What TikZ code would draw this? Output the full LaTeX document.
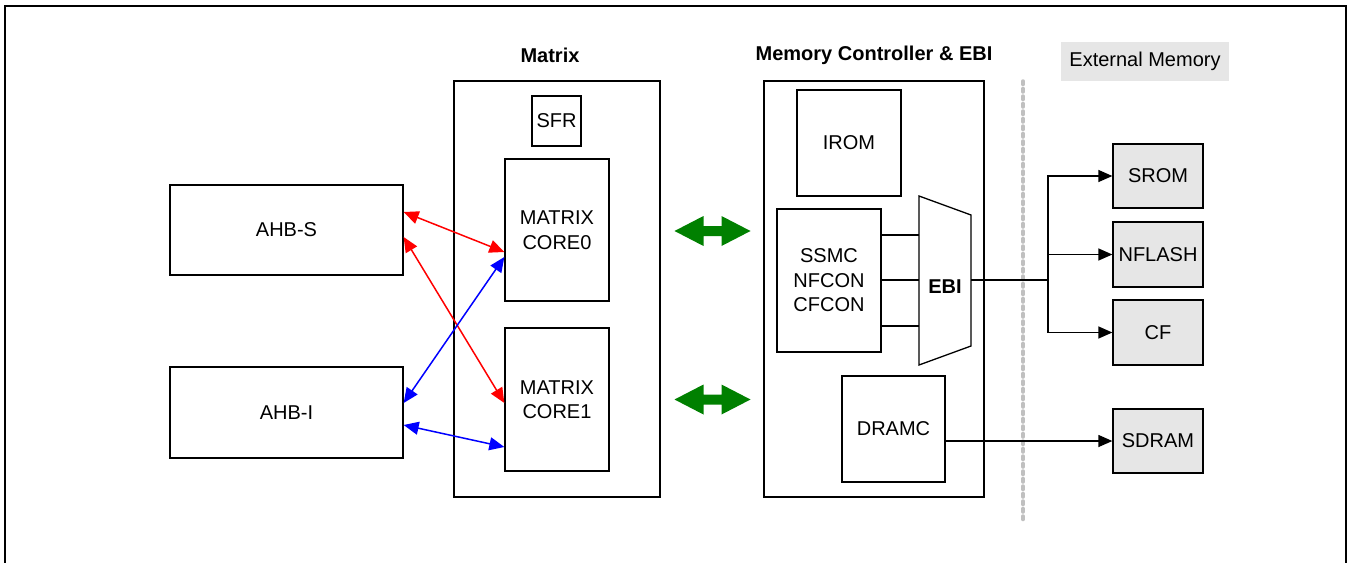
\documentclass[tikz,border=0pt]{standalone}
\usepackage{fontspec}
\setmainfont{Liberation Sans}
\usetikzlibrary{arrows.meta,calc}
\definecolor{dgreen}{RGB}{0,128,0}
\definecolor{lgray}{RGB}{230,230,230}
\definecolor{dgray}{RGB}{192,192,192}
\tikzset{
  box/.style={draw, line width=1.3pt, inner sep=0pt, align=center, font=\fontsize{20}{24.5}\selectfont},
  extbox/.style={box, fill=lgray},
  title/.style={font=\fontsize{20}{24}\selectfont\bfseries, inner sep=0pt},
  tip/.style={-{Triangle[length=14pt,width=12pt]}, line width=1.3pt},
  dtip/.style={{Triangle[length=15pt,width=13pt]}-{Triangle[length=15pt,width=13pt]}, line width=1.5pt},
  garrow/.pic={\fill[dgreen] (-38,0) -- (-9,-15) -- (-9,-5) -- (9,-5) -- (9,-15) -- (38,0) -- (9,15) -- (9,5) -- (-9,5) -- (-9,15) -- cycle;}
}
\begin{document}
\begin{tikzpicture}[x=1pt,y=-1pt]
\useasboundingbox (0,0) rectangle (1354,562);
\fill[white] (0,0) rectangle (1354,562);
\draw[line width=2pt] (5,600) -- (5,6) -- (1346,6) -- (1346,600);

% left
\node[box, minimum width=233pt, minimum height=90pt] (ahbs) at (286.5,230) {AHB-S};
\node[box, minimum width=233pt, minimum height=91pt] (ahbi) at (286.5,412.5) {AHB-I};

% matrix
\node[box, minimum width=206pt, minimum height=416pt] (matrix) at (557,289) {};
\node[title] (matrixlbl) at (550,55) {Matrix};
\node[box, minimum width=49pt, minimum height=50pt] (sfr) at (556.5,121) {SFR};
\node[box, minimum width=104pt, minimum height=142pt] (core0) at (557,230) {MATRIX\\CORE0};
\node[box, minimum width=104pt, minimum height=143pt] (core1) at (557,399.5) {MATRIX\\CORE1};

% memory controller
\node[box, minimum width=220pt, minimum height=416pt] (mc) at (874,289) {};
\node[title] (mclbl) at (874,55) {Memory Controller \& EBI};
\node[box, minimum width=104pt, minimum height=106pt] (irom) at (849,143) {IROM};
\node[box, minimum width=104pt, minimum height=143pt] (ssmc) at (829,280.5) {SSMC\\NFCON\\CFCON};
\node[box, minimum width=103pt, minimum height=106pt] (dramc) at (893.5,429) {DRAMC};

% EBI trapezoid
\draw[line width=1.3pt, fill=white] (919,196) -- (971,215) -- (971,346) -- (919,365) -- cycle;
\node[title] (ebi) at (945,287) {EBI};
\coordinate (ebiin1) at (919,235);
\coordinate (ebiin2) at (919,280);
\coordinate (ebiin3) at (919,326);
\coordinate (ebiout) at (971,280);
\draw[line width=1.3pt] (ssmc.east |- ebiin1) -- (ebiin1);
\draw[line width=1.3pt] (ssmc.east |- ebiin2) -- (ebiin2);
\draw[line width=1.3pt] (ssmc.east |- ebiin3) -- (ebiin3);

% divider
\draw[dgray, line width=3.5pt, line cap=round, dash pattern=on 3.5pt off 4pt] (1023,81) -- (1023,522);

% external memory
\node[fill=lgray, minimum width=168pt, minimum height=39pt, inner sep=0pt, font=\fontsize{20}{24}\selectfont] (extlbl) at (1145,61.5) {External Memory};
\node[extbox, minimum width=90pt, minimum height=64pt] (srom) at (1158,176) {SROM};
\node[extbox, minimum width=90pt, minimum height=65pt] (nflash) at (1158,254.5) {NFLASH};
\node[extbox, minimum width=90pt, minimum height=65pt] (cf) at (1158,332.5) {CF};
\node[extbox, minimum width=90pt, minimum height=64pt] (sdram) at (1158,441) {SDRAM};

\coordinate (split) at (1048,280);
\draw[line width=1.3pt] (ebiout) -- (split);
\draw[tip] (split) |- (srom.west);
\draw[tip] (split) |- (nflash.west);
\draw[tip] (split) |- (cf.west);
\draw[tip] (dramc.east |- sdram.west) -- (sdram.west);

% AHB arrows
\draw[dtip, red] ([yshift=18pt]ahbs.east) -- ([yshift=-22pt]core0.west);
\draw[dtip, red] ([yshift=-7pt]ahbs.east) -- ([yshift=-3.5pt]core1.west);
\draw[dtip, blue] ([yshift=-27pt]core0.west) -- ([yshift=9.5pt]ahbi.east);
\draw[dtip, blue] ([yshift=-12.5pt]ahbi.east) -- ([yshift=-47.5pt]core1.west);

% green bus arrows
\pic at (712.5,231) {garrow};
\pic at (712.5,399.5) {garrow};
\end{tikzpicture}
\end{document}
